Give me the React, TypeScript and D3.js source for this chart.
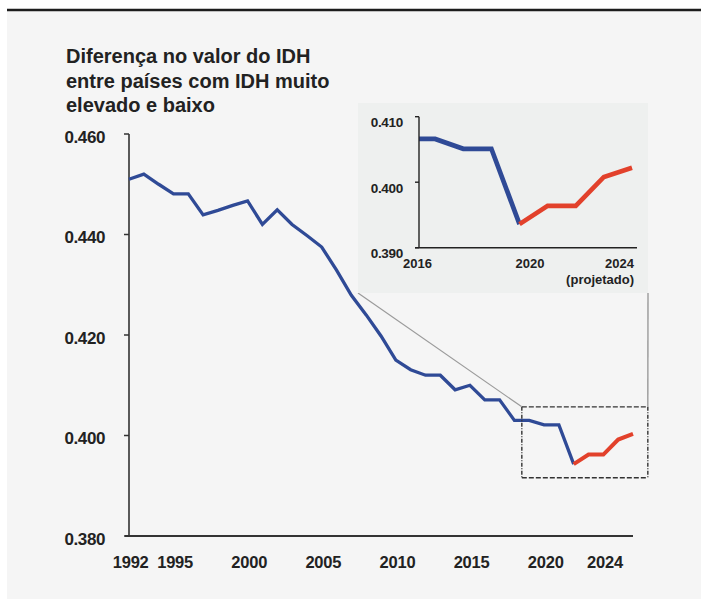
import React from 'react';
import * as d3 from 'd3';

// ---- data ----
const years = [
  1990, 1991, 1992, 1993, 1994, 1995, 1996, 1997, 1998, 1999,
  2000, 2001, 2002, 2003, 2004, 2005, 2006, 2007, 2008, 2009,
  2010, 2011, 2012, 2013, 2014, 2015, 2016, 2017, 2018, 2019,
  2020, 2021, 2022, 2023, 2024,
];
const gapValues = [
  0.4510, 0.4520, 0.4500, 0.4481, 0.4481, 0.4439, 0.4448, 0.4458, 0.4467, 0.4420,
  0.4449, 0.4420, 0.4398, 0.4375, 0.4329, 0.4279, 0.4240, 0.4198, 0.4150, 0.4131,
  0.4120, 0.4120, 0.4091, 0.4100, 0.4071, 0.4071, 0.4030, 0.4030, 0.4021, 0.4021,
  0.3943, 0.3962, 0.3962, 0.3992, 0.4003,
];
const lastObservedYear = 2020;
const yTicks = [0.38, 0.40, 0.42, 0.44, 0.46];
const xTickYears = [1992, 1995, 2000, 2005, 2010, 2015, 2020, 2024];

const insetYears = [2016, 2017, 2018, 2019, 2020, 2021, 2022, 2023, 2024];
const insetValues = [0.4066, 0.4066, 0.4051, 0.4051, 0.3936, 0.3964, 0.3964, 0.4008, 0.4022];
const insetYTicks = [0.39, 0.40, 0.41];
const insetXTicks = [2016, 2020, 2024];
const insetNote = '(projetado)';

const zoomYears = [2016.5, 2025];
const zoomValues = [0.3916, 0.4057];

const titleLines = [
  'Diferença no valor do IDH',
  'entre países com IDH muito',
  'elevado e baixo',
];

// ---- layout & style ----
const W = 701;
const H = 599;
const FONT = '"Liberation Sans", Arial, Helvetica, sans-serif';
const BLUE = '#2f4a96';
const RED = '#e2412b';
const INK = '#222';

const plot = { left: 129, right: 633, top: 134, bottom: 536 };
const inset = { x: 358, y: 103, w: 290, h: 190, axisX: 419, axisRight: 637, top: 116.7, bottom: 247.7 };

export default function App() {
  const x = d3.scaleLinear().domain([years[0], years[years.length - 1]]).range([plot.left, plot.right]);
  const y = d3.scaleLinear().domain([yTicks[0], yTicks[yTicks.length - 1]]).range([plot.bottom, plot.top]);

  const pts: [number, number][] = years.map((yr, i) => [yr, gapValues[i]]);
  const observed = pts.filter((d) => d[0] <= lastObservedYear);
  const projected = pts.filter((d) => d[0] >= lastObservedYear);

  const line = d3
    .line<[number, number]>()
    .x((d) => x(d[0]))
    .y((d) => y(d[1]));

  const ix = d3.scaleLinear().domain([insetYears[0], insetYears[insetYears.length - 1]]).range([407, 632]);
  const iy = d3
    .scaleLinear()
    .domain([insetYTicks[0], insetYTicks[insetYTicks.length - 1]])
    .range([inset.bottom, inset.top]);
  const ipts: [number, number][] = insetYears.map((yr, i) => [yr, insetValues[i]]);
  const iObserved = ipts.filter((d) => d[0] <= lastObservedYear);
  const iProjected = ipts.filter((d) => d[0] >= lastObservedYear);
  const iline = d3
    .line<[number, number]>()
    .x((d) => ix(d[0]))
    .y((d) => iy(d[1]));

  const bx0 = x(zoomYears[0]);
  const bx1 = x(zoomYears[1]);
  const by0 = y(zoomValues[1]);
  const by1 = y(zoomValues[0]);

  return (
    <svg
      width={W}
      height={H}
      viewBox={`0 0 ${W} ${H}`}
      style={{ position: 'absolute', left: 0, top: 0, fontFamily: FONT }}
    >
      <rect x={0} y={0} width={W} height={H} fill="#ffffff" />
      <rect x={7} y={11} width={W - 7} height={H - 11} fill="#f5f5f5" />
      <line x1={7} x2={W} y1={10} y2={10} stroke="#1c1c1c" strokeWidth={2.5} />

      {/* title */}
      {titleLines.map((t, i) => (
        <text key={t} x={66} y={63.3 + i * 24.5} fontSize={20} fontWeight="bold" fill={INK}>
          {t}
        </text>
      ))}

      {/* main axes */}
      <line x1={plot.left} x2={plot.left} y1={plot.top} y2={plot.bottom} stroke="#333" strokeWidth={1.6} />
      <line x1={plot.left - 4} x2={plot.right} y1={plot.bottom} y2={plot.bottom} stroke="#333" strokeWidth={1.8} />
      {yTicks.map((t) => (
        <g key={t}>
          <line x1={plot.left - 5} x2={plot.left} y1={y(t)} y2={y(t)} stroke="#333" strokeWidth={1.5} />
          <text
            x={plot.left - 24}
            y={y(t) + 3}
            textAnchor="end"
            dominantBaseline="central"
            fontSize={17}
            fontWeight="bold"
            letterSpacing={-0.4}
            fill={INK}
          >
            {d3.format('.3f')(t)}
          </text>
        </g>
      ))}
      {xTickYears.map((yr) => (
        <text
          key={yr}
          x={x(yr) - 28}
          y={567.5}
          textAnchor="middle"
          fontSize={16.5}
          fontWeight="bold"
          letterSpacing={-0.2}
          fill={INK}
        >
          {yr}
        </text>
      ))}

      {/* main series */}
      <path d={line(observed) || ''} fill="none" stroke={BLUE} strokeWidth={3.3} strokeLinejoin="miter" />
      <path d={line(projected) || ''} fill="none" stroke={RED} strokeWidth={4} strokeLinejoin="miter" />

      {/* zoom box */}
      <line x1={bx0} x2={bx1} y1={by0} y2={by0} stroke="#333" strokeWidth={1.4} strokeDasharray="5,2" />
      <line x1={bx0} x2={bx1} y1={by1} y2={by1} stroke="#333" strokeWidth={1.4} strokeDasharray="5,2" />
      <line x1={bx0} x2={bx0} y1={by0} y2={by1} stroke="#333" strokeWidth={1.4} strokeDasharray="4,1.5,1,1.5" />
      <line x1={bx1} x2={bx1} y1={by0} y2={by1} stroke="#333" strokeWidth={1.4} strokeDasharray="4,1.5,1,1.5" />

      {/* connectors */}
      <line x1={inset.x} y1={inset.y + inset.h} x2={bx0} y2={by0} stroke="#9a9a9a" strokeWidth={1.2} />
      <line x1={inset.x + inset.w} y1={inset.y + inset.h} x2={bx1} y2={by0} stroke="#9a9a9a" strokeWidth={1.4} />

      {/* inset */}
      <defs>
        <clipPath id="insetClip">
          <rect x={inset.axisX} y={inset.y} width={inset.x + inset.w - inset.axisX} height={inset.h} />
        </clipPath>
      </defs>
      <rect x={inset.x} y={inset.y} width={inset.w} height={inset.h} fill="#eef0ef" />
      <g clipPath="url(#insetClip)">
        <path d={iline(iObserved) || ''} fill="none" stroke={BLUE} strokeWidth={4.7} strokeLinejoin="miter" />
        <path d={iline(iProjected) || ''} fill="none" stroke={RED} strokeWidth={4.7} strokeLinejoin="miter" />
      </g>
      <line x1={inset.axisX} x2={inset.axisX} y1={inset.top} y2={inset.bottom} stroke="#222" strokeWidth={1.4} />
      <line x1={inset.axisX - 4} x2={inset.axisRight} y1={inset.bottom} y2={inset.bottom} stroke="#222" strokeWidth={1.4} />
      {insetYTicks.map((t) => (
        <g key={t}>
          <line x1={inset.axisX - 4} x2={inset.axisX} y1={iy(t)} y2={iy(t)} stroke="#222" strokeWidth={1.4} />
          <text
            x={inset.axisX - 16}
            y={iy(t) + 6}
            textAnchor="end"
            dominantBaseline="central"
            fontSize={13.5}
            fontWeight="bold"
            letterSpacing={-0.3}
            fill={INK}
          >
            {d3.format('.3f')(t)}
          </text>
        </g>
      ))}
      {insetXTicks.map((yr, i) => (
        <text
          key={yr}
          x={i < insetXTicks.length - 1 ? ix(yr) - 4 : ix(yr) + 2}
          y={267.7}
          textAnchor={i < insetXTicks.length - 1 ? 'start' : 'end'}
          fontSize={13}
          fontWeight="bold"
          fill={INK}
        >
          {yr}
        </text>
      ))}
      <text
        x={ix(insetXTicks[insetXTicks.length - 1]) + 2}
        y={284.3}
        textAnchor="end"
        fontSize={13}
        fontWeight="bold"
        fill={INK}
      >
        {insetNote}
      </text>
    </svg>
  );
}
